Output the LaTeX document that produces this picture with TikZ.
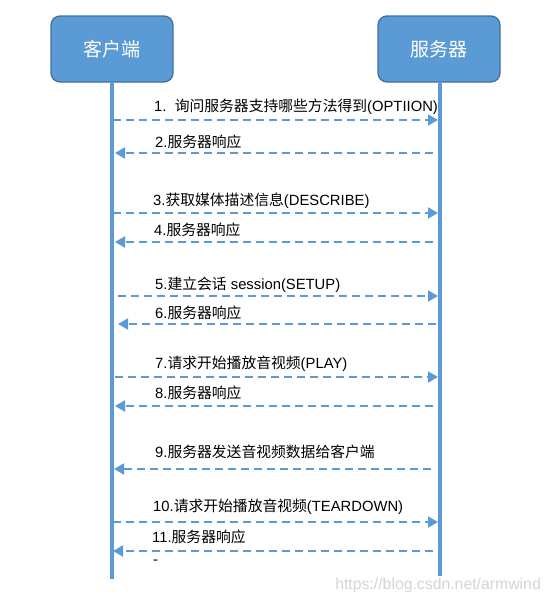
\documentclass[tikz,border=0pt]{standalone}
\usepackage{fontspec}
\setmainfont{Liberation Sans}
\newfontfamily\cjk{Noto Sans CJK SC}
\usetikzlibrary{arrows.meta}
\definecolor{msblue}{HTML}{5B9BD5}
\definecolor{msborder}{HTML}{41719C}
\definecolor{wm}{HTML}{D4D4D4}
\tikzset{
  actorbox/.style={draw=msborder, line width=1.3pt, fill=msblue, rounded corners=9pt,
    minimum width=122pt, minimum height=66pt, text=white, font=\cjk\fontsize{19}{22}\selectfont},
  lifeline/.style={msblue, line width=3.5pt},
  msg/.style={msblue, line width=2pt, dash pattern=on 8pt off 5pt,
    -{Triangle[length=10pt,width=11pt]}},
  msglabel/.style={anchor=west, inner sep=0pt, text=black, font=\fontsize{14.8}{17}\selectfont},
}
\newcommand{\zh}[1]{{\cjk #1}}
\begin{document}
\begin{tikzpicture}[x=1pt,y=-1pt]
\useasboundingbox (0,0) rectangle (548,603);
% actors
\node[actorbox] (client) at (112,49) {客户端};
\node[actorbox] (server) at (439,49) {服务器};
\coordinate (cend) at (112,579);
\coordinate (send) at (440,576);
\draw[lifeline] (client.south) -- (cend);
\draw[lifeline] (server.south -| send) -- (send);
% message end points
\coordinate (a1) at (113,120); \coordinate (b1) at (438,120);
\coordinate (a2) at (115,153); \coordinate (b2) at (433,153);
\coordinate (a3) at (113,213); \coordinate (b3) at (438,213);
\coordinate (a4) at (115,242); \coordinate (b4) at (433,242);
\coordinate (a5) at (118,296); \coordinate (b5) at (438,296);
\coordinate (a6) at (118,324); \coordinate (b6) at (436,324);
\coordinate (a7) at (115,377); \coordinate (b7) at (438,377);
\coordinate (a8) at (115,406); \coordinate (b8) at (433,406);
\coordinate (a9) at (114,469); \coordinate (b9) at (431,469);
\coordinate (a10) at (113,522); \coordinate (b10) at (438,522);
\coordinate (a11) at (113,551); \coordinate (b11) at (433,551);
% messages
\draw[msg] (a1) -- (b1);
\draw[msg] (b2) -- (a2);
\draw[msg] (a3) -- (b3);
\draw[msg] (b4) -- (a4);
\draw[msg] (a5) -- (b5);
\draw[msg] (b6) -- (a6);
\draw[msg] (a7) -- (b7);
\draw[msg] (b8) -- (a8);
\draw[msg] (b9) -- (a9);
\draw[msg] (a10) -- (b10);
\draw[msg] (b11) -- (a11);
% labels
\node[msglabel] (l1) at (154,107) {1.\ \ \zh{询问服务器支持哪些方法得到}(OPTIION)};
\node[msglabel] (l2) at (155,142) {2.\zh{服务器响应}};
\node[msglabel] (l3) at (153,201) {3.\zh{获取媒体描述信息}(DESCRIBE)};
\node[msglabel] (l4) at (154,230) {4.\zh{服务器响应}};
\node[msglabel] (l5) at (155,285) {5.\zh{建立会话} session(SETUP)};
\node[msglabel] (l6) at (155,313) {6.\zh{服务器响应}};
\node[msglabel] (l7) at (155,364) {7.\zh{请求开始播放音视频}(PLAY)};
\node[msglabel] (l8) at (155,393) {8.\zh{服务器响应}};
\node[msglabel] (l9) at (155,452) {9.\zh{服务器发送音视频数据给客户端}};
\node[msglabel] (l10) at (153,507) {10.\zh{请求开始播放音视频}(TEARDOWN)};
\node[msglabel] (l11) at (152,537) {11.\zh{服务器响应}};
\node[msglabel] (dash) at (153,562) {-};
% watermark
\node[anchor=east, inner sep=0pt, text=wm, font=\fontsize{15.8}{18}\selectfont] (wmark) at (541,585) {https://blog.csdn.net/armwind};
\end{tikzpicture}
\end{document}
